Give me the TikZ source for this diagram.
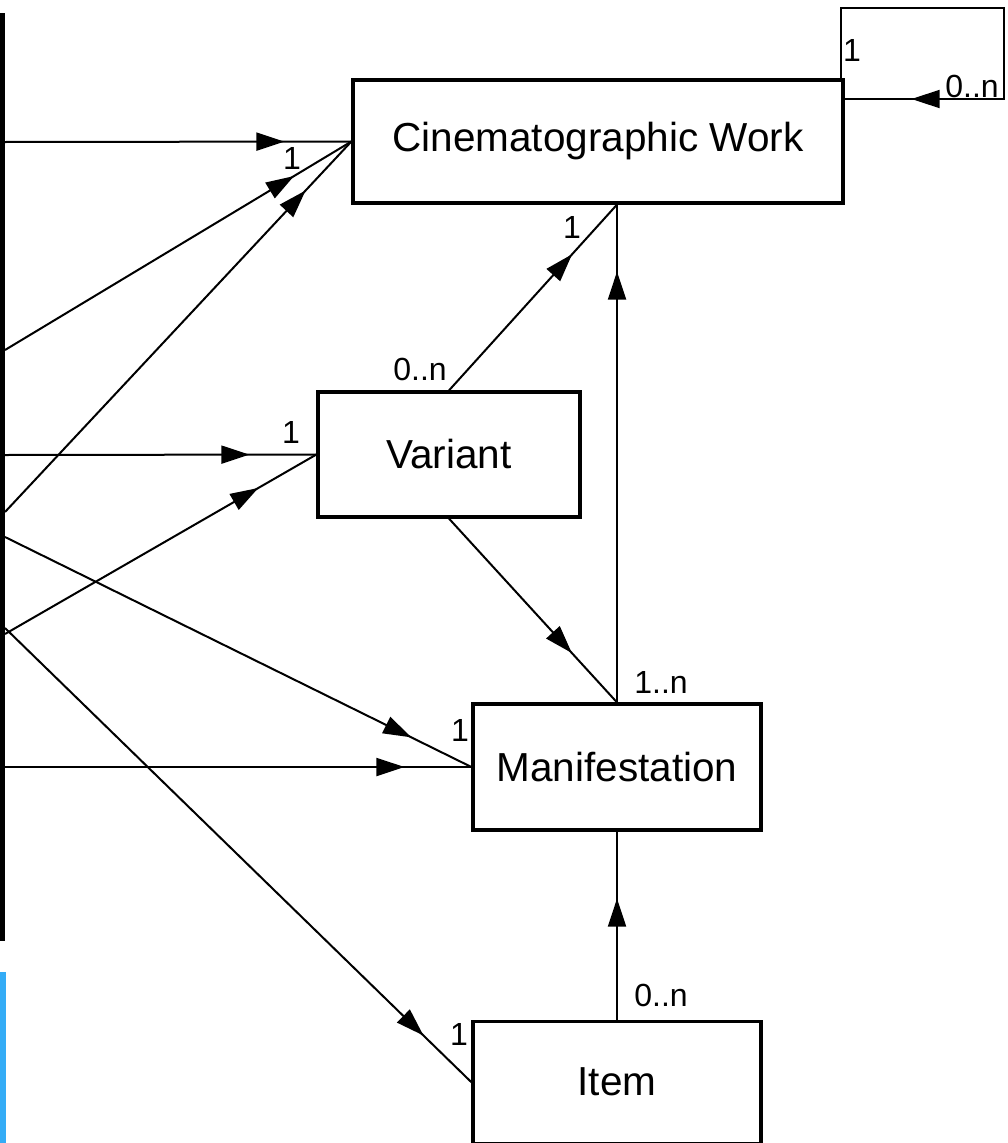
\documentclass[tikz,border=0pt]{standalone}
\usepackage{fontspec}
\setmainfont{Liberation Sans}
\usetikzlibrary{arrows.meta}
\usetikzlibrary{decorations.markings}
\usetikzlibrary{positioning}

\definecolor{barblue}{RGB}{52,172,246}

\begin{document}
\begin{tikzpicture}[x=1pt, y=-1pt,
    entity/.style={draw, line width=3.2pt, inner sep=0pt, font=\fontsize{40.5}{48}\selectfont},
    mult/.style={inner sep=0pt, font=\fontsize{32}{38}\selectfont},
    link/.style={line width=2pt, postaction={decorate},
      decoration={markings, mark=at position -67pt with {\arrow{Triangle[length=28pt,width=18pt]}}}}]
  \useasboundingbox (0,0) rectangle (1008,1143);

  \node (cw) [entity, minimum width=490pt, minimum height=123pt] at (598,141.5) {Cinematographic Work};
  \node (var) [entity, minimum width=262pt, minimum height=125pt] at (449,454.5) {Variant};
  \node (man) [entity, minimum width=288pt, minimum height=126pt] at (617,767) {Manifestation};
  \node (itm) [entity, minimum width=288pt, minimum height=122pt, below=188pt of man] {Item};

  % left bar, cut at the edge
  \fill (0,13) rectangle (5,941);
  \fill [barblue] (0,972) rectangle (6,1143);
  \coordinate (b1) at (5,142);
  \coordinate (b2) at (5,350);
  \coordinate (b3) at (5,455);
  \coordinate (b4) at (5,512);
  \coordinate (b5) at (5,537);
  \coordinate (b6) at (5,634);
  \coordinate (b7) at (5,628);
  \coordinate (b8) at (5,767);

  \draw [link] (b1) -- (cw.west);
  \draw [link] (b2) -- (cw.west);
  \draw [link] (b4) -- (cw.west);
  \draw [link] (b3) -- (var.west);
  \draw [link] (b6) -- (var.west);
  \draw [link] (b5) -- (man.west);
  \draw [link] (b8) -- (man.west);
  \draw [link] (b7) -- (itm.west);

  \coordinate (cwfoot) at (man.north |- cw.south);
  \draw [link] (var.north) -- (cwfoot);
  \draw [link] (man.north) -- (cwfoot);
  \draw [link] (var.south) -- (man.north);
  \draw [link] (itm.north) -- (man.south);

  % self association
  \coordinate (loop) at (1004,8);
  \draw [link] ([xshift=-4pt]cw.north east) |- (loop) |- ([yshift=42.5pt]cw.east);

  \node (m1) [mult] at (292,158) {1};
  \node (m2) [mult] at (291,432) {1};
  \node (m3) [mult] at (420,369) {0..n};
  \node (m4) [mult] at (572,227) {1};
  \node (m5) [mult] at (661,682) {1..n};
  \node (m6) [mult] at (460,730) {1};
  \node (m7) [mult] at (661,995) {0..n};
  \node (m8) [mult] at (459,1034) {1};
  \node (m9) [mult] at (852,50) {1};
  \node (m10) [mult] at (972,86) {0..n};
\end{tikzpicture}
\end{document}
